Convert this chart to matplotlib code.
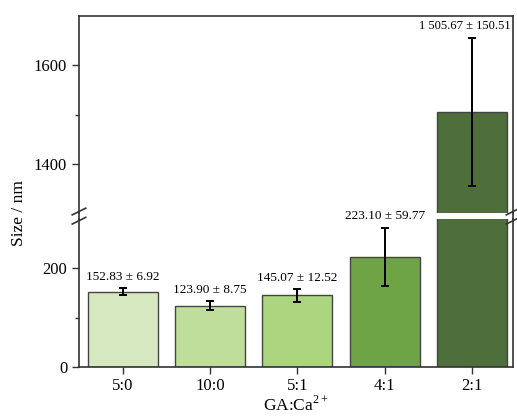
import numpy as np
import matplotlib
matplotlib.use('Agg')
import matplotlib.pyplot as plt
from matplotlib.lines import Line2D

plt.rcParams['font.family'] = ['Liberation Serif', 'DejaVu Serif']
plt.rcParams['mathtext.fontset'] = 'custom'
plt.rcParams['mathtext.rm'] = 'Liberation Serif'

# data
ratios = ['5:0', '10:0', '5:1', '4:1', '2:1']
size_mean = [152.83, 123.90, 145.07, 223.10, 1505.67]
size_sd = [6.92, 8.75, 12.52, 59.77, 150.51]
bar_colors = ['#d5e8bf', '#c0de9b', '#abd57e', '#6ea445', '#4e6f3b']

edge_color = '#333333'
x = np.arange(len(ratios))

fig = plt.figure(figsize=(5.17, 4.17), dpi=100)
ax_top = fig.add_axes([0.1528, 0.4892, 0.8395, 0.4724])
ax_bot = fig.add_axes([0.1528, 0.1206, 0.8395, 0.3537])


def draw_bars(ax):
    ax.bar(x, size_mean, width=0.8, color=bar_colors, edgecolor='#444444', linewidth=1.0)
    ax.errorbar(x, size_mean, yerr=size_sd, fmt='none', ecolor='black',
                elinewidth=1.4, capsize=3, capthick=1.4)
    ax.set_xlim(-0.5, 4.47)
    for s in ax.spines.values():
        s.set_color(edge_color)
        s.set_linewidth(1.2)
    ax.tick_params(axis='y', which='major', direction='out', length=5, width=1.0,
                   labelsize=12, color=edge_color)
    ax.tick_params(axis='y', which='minor', direction='out', length=3, width=1.0,
                   color=edge_color)


draw_bars(ax_top)
draw_bars(ax_bot)

# upper part of the broken axis
ax_top.set_ylim(1300, 1700)
ax_top.set_yticks([1400, 1600])
ax_top.set_yticks([1500], minor=True)
ax_top.spines['bottom'].set_visible(False)
ax_top.tick_params(axis='x', which='both', bottom=False, labelbottom=False)

# lower part
ax_bot.set_ylim(0, 300)
ax_bot.set_yticks([0, 200])
ax_bot.set_yticks([100], minor=True)
ax_bot.spines['top'].set_visible(False)
ax_bot.set_xticks(x)
ax_bot.set_xticklabels(ratios)
ax_bot.tick_params(axis='x', direction='out', length=5, width=1.0, labelsize=12,
                   color=edge_color, pad=3)
ax_bot.set_xlabel(r'GA:Ca$^{\mathrm{2+}}$', fontsize=12.5, labelpad=1)

fig.text(0.037, 0.49, 'Size / nm', rotation=90, fontsize=12.5, ha='center', va='center')

# value labels above error bars
for i in range(len(ratios)):
    m, sd = size_mean[i], size_sd[i]
    label = '{} ± {:.2f}'.format('{:,.2f}'.format(m).replace(',', ' '), sd)
    if m > 1000:
        # tall bar sits next to the right spine, nudge its label inwards
        ax_top.annotate(label, (x[i], m + sd), xytext=(-5, 4), textcoords='offset points',
                        ha='center', va='bottom', fontsize=9, annotation_clip=False)
    else:
        ax_bot.annotate(label, (x[i], m + sd), xytext=(0, 4), textcoords='offset points',
                        ha='center', va='bottom', fontsize=9.5, annotation_clip=False)

# break marks on both vertical spines
y_lo = 0.1206 + 0.3537
y_hi = 0.4892
y_mid = (y_lo + y_hi) / 2
for xs in [0.1528, 0.1528 + 0.8395]:
    fig.add_artist(Line2D([xs, xs], [y_lo, y_hi], color=edge_color, lw=1.2))
    for dy in [-0.011, 0.011]:
        fig.add_artist(Line2D([xs - 0.013, xs + 0.013], [y_mid + dy - 0.008, y_mid + dy + 0.008],
                              color=edge_color, lw=1.2))

fig.savefig('out.png', dpi=100)
